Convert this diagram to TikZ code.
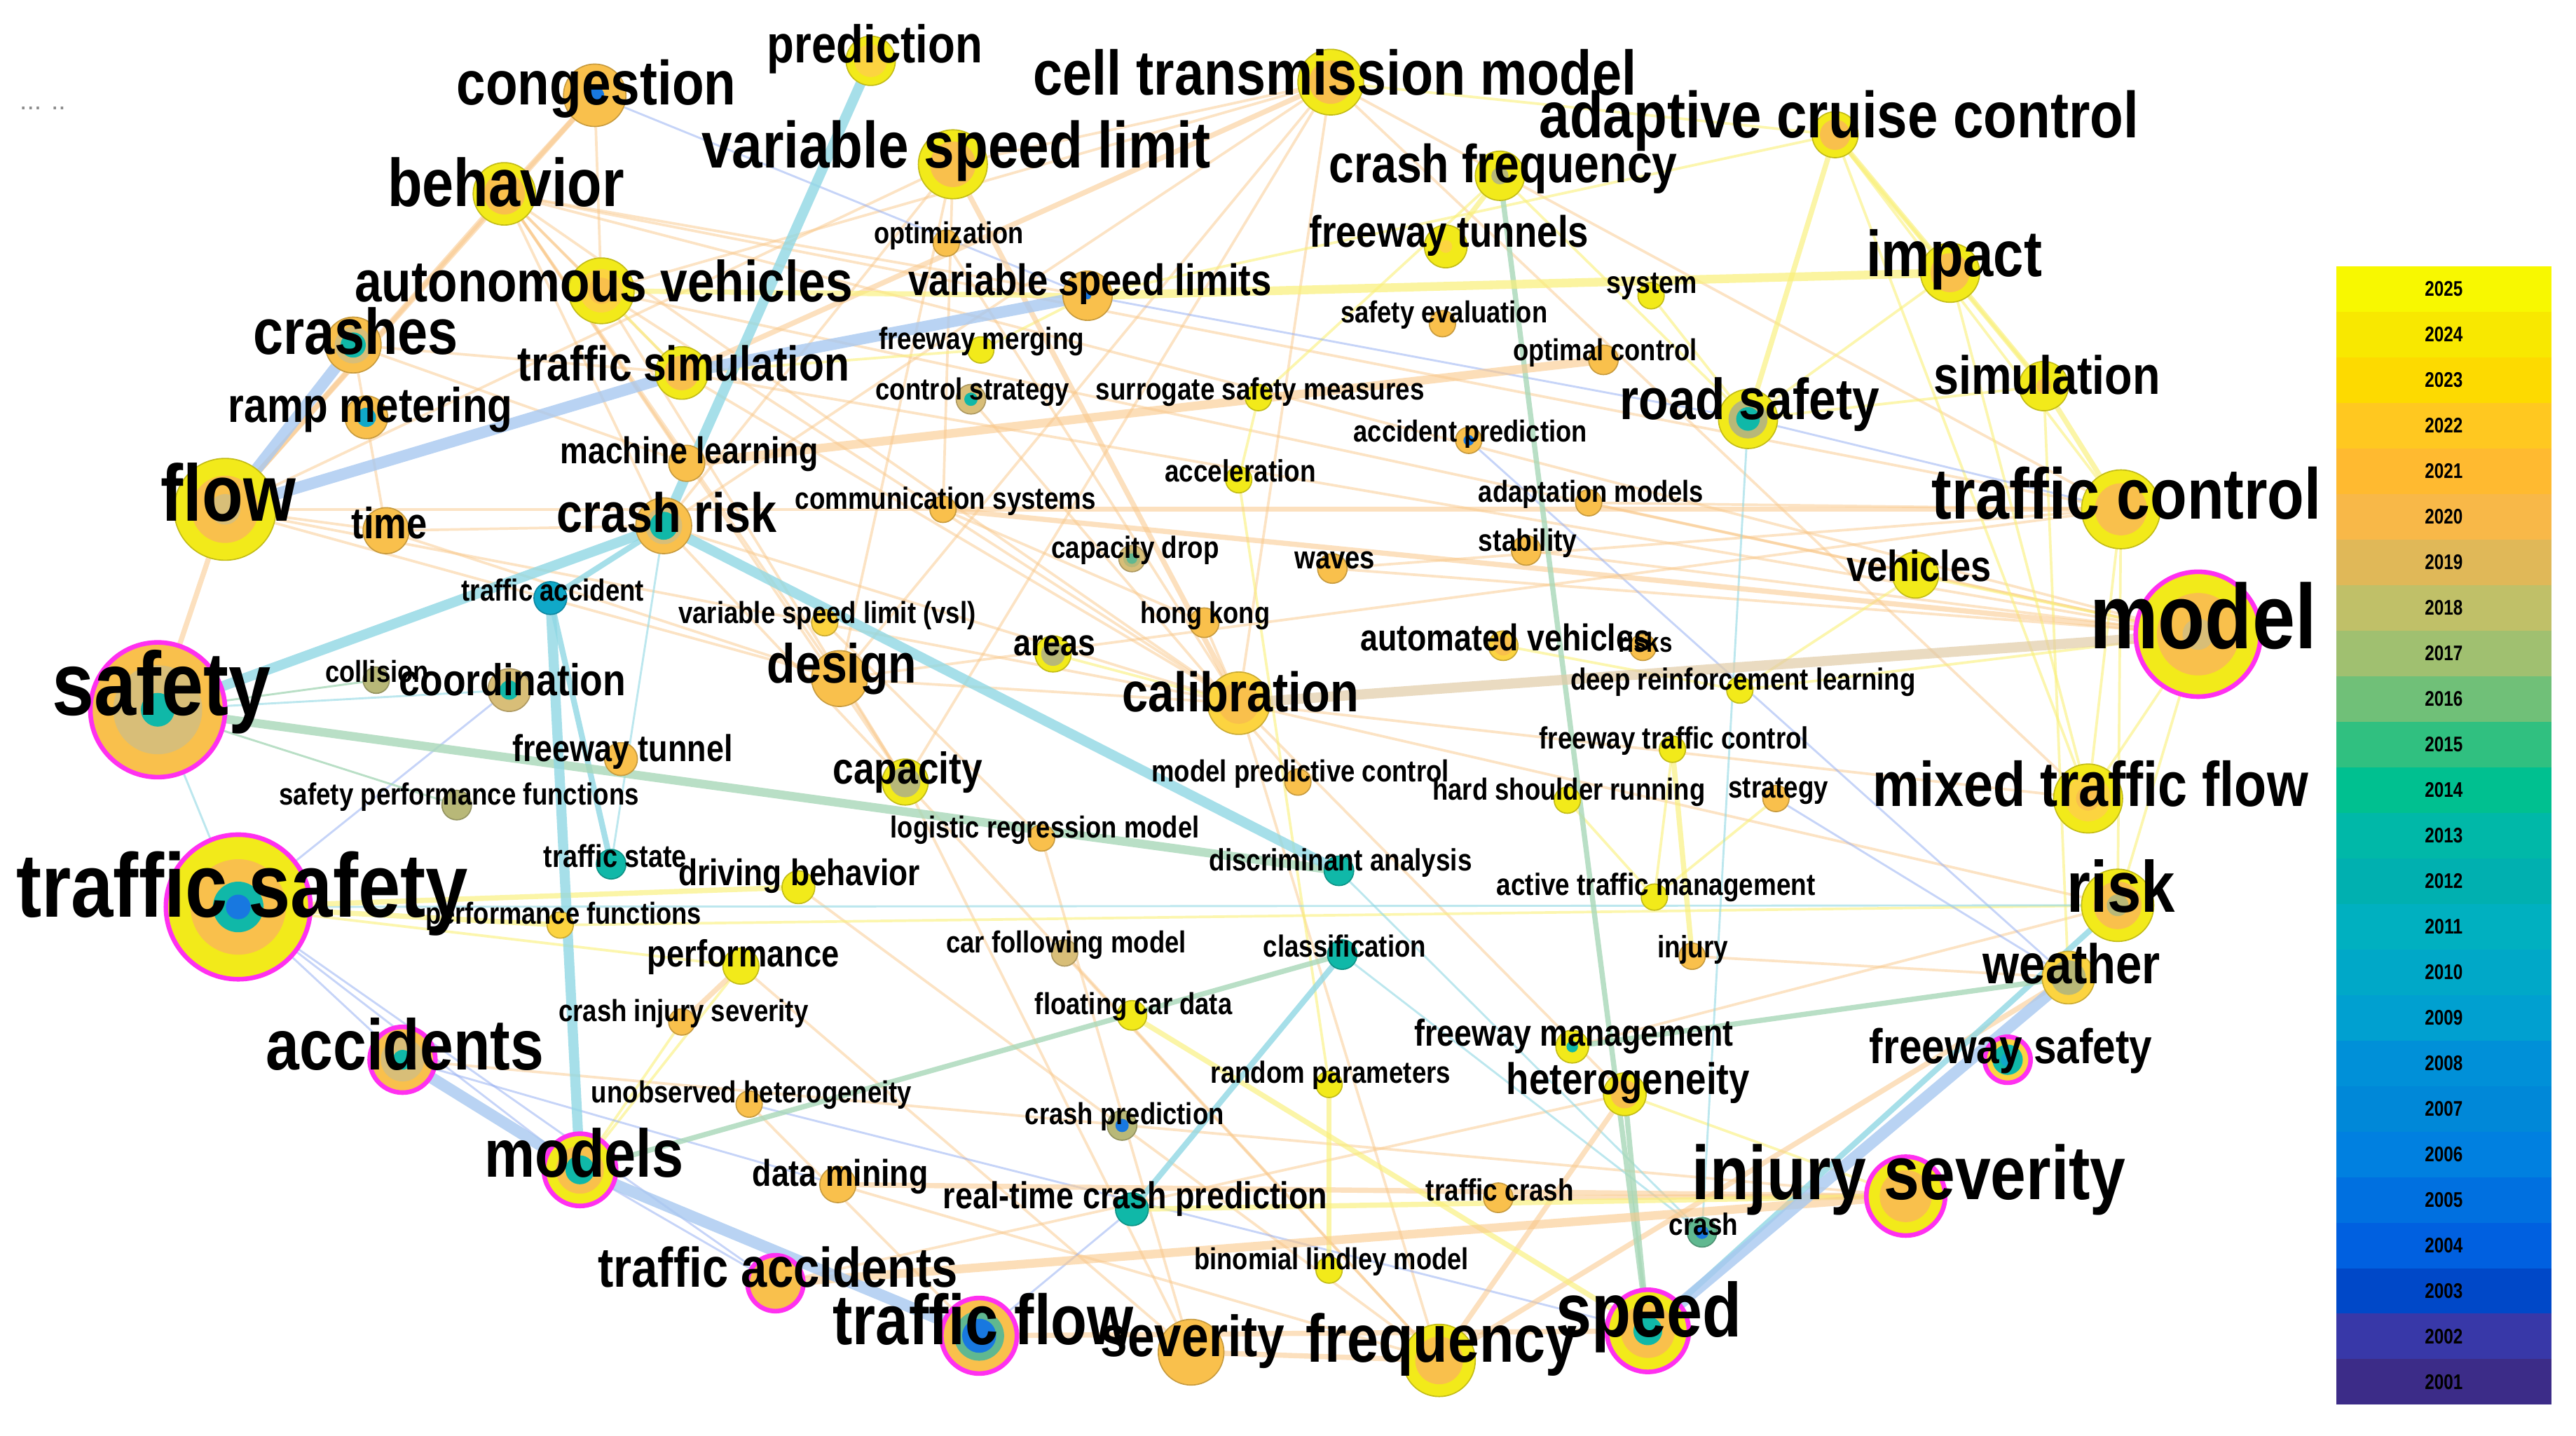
\documentclass[tikz,border=0pt]{standalone}
\usepackage{fontspec}
\setmainfont{Liberation Sans}
\usepackage{graphicx}
\newlength\dpx \setlength\dpx{0.02cm}
\newcommand\kwtxt[2]{\resizebox{#1\dpx}{!}{\scalebox{0.84}[1]{\bfseries #2}}}
\definecolor{kyel}{HTML}{F2EA1A}
\definecolor{korg}{HTML}{F9C04C}
\definecolor{kgold}{HTML}{FCD440}
\definecolor{ktan}{HTML}{D8BE78}
\definecolor{kolive}{HTML}{B8B878}
\definecolor{kteal}{HTML}{10B8A8}
\definecolor{kcyan}{HTML}{10A8C8}
\definecolor{kblue}{HTML}{1878E0}
\definecolor{kgreen}{HTML}{60B890}
\definecolor{kmag}{HTML}{FF30F0}
\definecolor{eblue}{HTML}{A8C8F0}
\definecolor{ecyan}{HTML}{90D8E4}
\definecolor{egreen}{HTML}{A8D8B8}
\definecolor{eorg}{HTML}{FAC88A}
\definecolor{eyel}{HTML}{FAF078}
\definecolor{etan}{HTML}{E2CCA8}
\definecolor{y25}{HTML}{F8F800}\definecolor{y24}{HTML}{F8E800}\definecolor{y23}{HTML}{FDDA00}
\definecolor{y22}{HTML}{FFC820}\definecolor{y21}{HTML}{FFBA30}\definecolor{y20}{HTML}{F8B848}
\definecolor{y19}{HTML}{E0B858}\definecolor{y18}{HTML}{C0C068}\definecolor{y17}{HTML}{A0C070}
\definecolor{y16}{HTML}{70C078}\definecolor{y15}{HTML}{30C080}\definecolor{y14}{HTML}{00C090}
\definecolor{y13}{HTML}{00B8A8}\definecolor{y12}{HTML}{00B0B0}\definecolor{y11}{HTML}{00B0C0}
\definecolor{y10}{HTML}{00A8C8}\definecolor{y09}{HTML}{00A0D0}\definecolor{y08}{HTML}{0090D8}
\definecolor{y07}{HTML}{0088D8}\definecolor{y06}{HTML}{0080E0}\definecolor{y05}{HTML}{0070E0}
\definecolor{y04}{HTML}{0060E0}\definecolor{y03}{HTML}{0048C8}\definecolor{y02}{HTML}{3838A8}
\definecolor{y01}{HTML}{3C2C88}
\tikzset{
 kdot/.style={circle, inner sep=0pt, line width=0.4pt},
 klab/.style={inner sep=0pt, anchor=center, text=black},
 ebT/.style={draw=eblue, line width=4pt, opacity=0.8, line cap=round},
 ebt/.style={draw=eblue!85!blue, line width=0.7pt, opacity=0.5},
 ecT/.style={draw=ecyan, line width=3.5pt, opacity=0.8, line cap=round},
 ecm/.style={draw=ecyan, line width=2pt, opacity=0.8},
 ect/.style={draw=ecyan, line width=0.7pt, opacity=0.6},
 egT/.style={draw=egreen, line width=3pt, opacity=0.8},
 egm/.style={draw=egreen, line width=1.8pt, opacity=0.8},
 egt/.style={draw=egreen, line width=0.7pt, opacity=0.8},
 eoT/.style={draw=eorg, line width=3pt, opacity=0.6},
 eom/.style={draw=eorg, line width=1.8pt, opacity=0.55},
 eot/.style={draw=eorg, line width=0.9pt, opacity=0.5},
 eyT/.style={draw=eyel, line width=3pt, opacity=0.7},
 eym/.style={draw=eyel, line width=1.8pt, opacity=0.65},
 eyt/.style={draw=eyel, line width=0.9pt, opacity=0.6},
 etT/.style={draw=etan, line width=3.5pt, opacity=0.7},
}
\newcommand\kwdot[6]{%
  \node[kdot, minimum size={#2*0.04cm}, fill=#3, draw=#3!80!black] (n-#1) at (#1) {};
  \fill[#4] (#1) circle[radius={0.66*#2*0.02cm}];
  \fill[#5] (#1) circle[radius={#6*#2*0.02cm}];
}
\newcommand\kwring[2]{\draw[kmag, line width=1.6pt] (#1) circle[radius={#2*0.02cm}];}
\newcommand\kwl[5]{\node[klab] (t-#1) at (#2,#3) {\kwtxt{#4}{#5}};}
\begin{document}
\begin{tikzpicture}[x=0.02cm, y=-0.02cm]
\fill[white] (0,0) rectangle (1568,874);
\useasboundingbox (0,0) rectangle (1568,874);
% ---------- node centres
\coordinate (pred) at (530,37);
\coordinate (cong) at (362,58);
\coordinate (ctm) at (810,50);
\coordinate (acc) at (1117,82);
\coordinate (behav) at (307,118);
\coordinate (vslim) at (580,100);
\coordinate (cfreq) at (913,107);
\coordinate (optim) at (576,148);
\coordinate (ftunnels) at (880,150);
\coordinate (impact) at (1187,166);
\coordinate (autov) at (366,177);
\coordinate (vslims) at (662,180);
\coordinate (system) at (1005,180);
\coordinate (safeval) at (878,197);
\coordinate (crashes) at (215,210);
\coordinate (fmerg) at (597,213);
\coordinate (optctrl) at (976,219);
\coordinate (tsim) at (415,227);
\coordinate (sim) at (1244,235);
\coordinate (ctrlstr) at (591,243);
\coordinate (ssm) at (766,242);
\coordinate (ramp) at (223,254);
\coordinate (roadsaf) at (1064,255);
\coordinate (accpred) at (894,268);
\coordinate (ml) at (418,282);
\coordinate (flow) at (137,310);
\coordinate (tctrl) at (1291,310);
\coordinate (accel) at (754,292);
\coordinate (time) at (235,323);
\coordinate (crisk) at (404,320);
\coordinate (comm) at (574,310);
\coordinate (adapt) at (967,306);
\coordinate (stab) at (929,335);
\coordinate (capdrop) at (689,340);
\coordinate (waves) at (811,346);
\coordinate (vehicles) at (1166,350);
\coordinate (taccident) at (335,364);
\coordinate (model) at (1338,386);
\coordinate (vsl) at (502,379);
\coordinate (hk) at (733,379);
\coordinate (autom) at (915,393);
\coordinate (risks) at (1000,394);
\coordinate (areas) at (641,398);
\coordinate (safety) at (96,432);
\coordinate (collision) at (229,414);
\coordinate (coord) at (310,420);
\coordinate (design) at (511,413);
\coordinate (calib) at (754,428);
\coordinate (drl) at (1059,420);
\coordinate (ftunnel) at (378,462);
\coordinate (ftc) at (1018,456);
\coordinate (capacity) at (551,476);
\coordinate (mpc) at (790,476);
\coordinate (hsr) at (954,487);
\coordinate (strategy) at (1081,486);
\coordinate (mtf) at (1271,486);
\coordinate (spf) at (278,490);
\coordinate (lrm) at (634,510);
\coordinate (tstate) at (372,526);
\coordinate (disc) at (815,530);
\coordinate (tsafety) at (145,552);
\coordinate (drivb) at (486,540);
\coordinate (perfun) at (341,563);
\coordinate (atm) at (1007,546);
\coordinate (risk) at (1289,551);
\coordinate (perf) at (451,588);
\coordinate (cfm) at (648,580);
\coordinate (classif) at (817,581);
\coordinate (injury) at (1030,582);
\coordinate (weather) at (1259,595);
\coordinate (cis) at (415,622);
\coordinate (fcd) at (689,618);
\coordinate (accidents) at (245,645);
\coordinate (fmgmt) at (957,637);
\coordinate (fsafety) at (1222,645);
\coordinate (randp) at (809,660);
\coordinate (hetero) at (989,666);
\coordinate (unobs) at (456,672);
\coordinate (cpred) at (683,685);
\coordinate (models) at (353,712);
\coordinate (dmining) at (510,721);
\coordinate (injsev) at (1160,728);
\coordinate (rtcp) at (689,736);
\coordinate (tcrash) at (912,729);
\coordinate (crash) at (1036,750);
\coordinate (bl) at (809,773);
\coordinate (taccs) at (472,781);
\coordinate (tflow) at (596,813);
\coordinate (severity) at (725,823);
\coordinate (freq) at (876,828);
\coordinate (speed) at (1003,810);
% ---------- edges (thin first)
\foreach \a/\b in {behav/autov, behav/tsim, behav/vslims, behav/crisk, behav/design, behav/calib, behav/tctrl, behav/model, behav/capacity, behav/ml, cong/autov,
 ctm/autov, ctm/crisk, ctm/design, ctm/calib, ctm/capacity, ctm/vslim, ctm/mtf, ctm/tctrl, vslim/design, vslim/comm, vslim/crisk, vslim/flow,
 crashes/tsim, crashes/ml, crashes/time, flow/time, flow/comm, flow/calib, flow/design, time/crisk, time/design, autov/calib, autov/model, autov/capacity,
 tsim/calib, tsim/model, comm/hk, crisk/calib, crisk/capacity, design/capacity, design/calib, design/tctrl, calib/mtf, calib/risk, calib/hetero, calib/freq,
 capacity/freq, capacity/severity, model/adapt, model/stab, tctrl/adapt, tctrl/waves, vsl/lrm, hk/calib, hetero/taccs, unobs/tflow, dmining/freq,
 accidents/injsev, weather/injury, risk/fmgmt, drivb/freq, perf/severity, optim/calib, ctrlstr/mpc, waves/model, lrm/severity, cfm/freq}
 {\draw[eot] (\a) -- (\b);}
\foreach \a/\b in {acc/sim, acc/tctrl, acc/mtf, acc/ctm, acc/vslims, impact/roadsaf, impact/mtf, sim/roadsaf, tctrl/mtf, model/mtf, model/risk, model/vehicles,
 tsafety/perf, cfreq/ssm, cfreq/roadsaf, hsr/atm, ftc/atm, models/perf, models/cis, hetero/injsev, drl/vehicles, drl/model, system/roadsaf, accel/randp,
 autov/tsim, tsim/fmerg, fmerg/vslims, risk/tctrl, weather/sim, perfun/risk, atm/strategy, autom/drl, ssm/accel, areas/calib}
 {\draw[eyt] (\a) -- (\b);}
\foreach \a/\b in {cong/vslims, vslims/roadsaf, accpred/weather, strategy/weather, tsafety/models, tsafety/accidents, tsafety/taccs, models/taccs,
 speed/unobs, tflow/rtcp, tctrl/roadsaf, accidents/dmining, tsafety/coord}
 {\draw[ebt] (\a) -- (\b);}
\foreach \a/\b in {roadsaf/crash, disc/crash, tsafety/risk, classif/crash, safety/tsafety, safety/coord, crisk/tstate}
 {\draw[ect] (\a) -- (\b);}
\foreach \a/\b in {collision/safety, spf/safety}
 {\draw[egt] (\a) -- (\b);}
% medium
\foreach \a/\b in {cong/behav, cong/flow, ctm/tsim, vslim/calib, flow/safety, comm/model, comm/tctrl, tflow/speed, severity/freq, freq/hetero, tcrash/injsev,
 injsev/dmining, cis/perf, weather/freq, behav/flow}
 {\draw[eom] (\a) -- (\b);}
\foreach \a/\b in {autov/vslims, acc/impact, acc/roadsaf, impact/sim, sim/tctrl, fcd/speed, randp/bl, tsafety/drivb, tsafety/perfun, cfreq/ftunnels,
 ftc/injury, rtcp/injsev}
 {\draw[eym] (\a) -- (\b);}
\foreach \a/\b in {crisk/taccident, taccident/tstate, speed/risk, classif/rtcp}
 {\draw[ecm] (\a) -- (\b);}
\foreach \a/\b in {cfreq/speed, fmgmt/weather, hetero/speed, classif/models}
 {\draw[egm] (\a) -- (\b);}
% thick
\foreach \a/\b in {ml/optctrl, taccs/injsev}
 {\draw[eoT] (\a) -- (\b);}
\draw[etT] (model) -- (calib);
\draw[eyT] (vslims) -- (impact);
\draw[egT] (safety) -- (disc);
\foreach \a/\b in {pred/crisk, safety/crisk, crisk/disc, taccident/models}
 {\draw[ecT] (\a) -- (\b);}
\foreach \a/\b in {crashes/flow, flow/tsim, tsim/vslims, accidents/models, models/tflow, speed/weather}
 {\draw[ebT] (\a) -- (\b);}
% ---------- keyword circles
\kwdot{pred}{15}{kyel}{kgold}{kgold}{0.3}
\kwdot{cong}{19}{korg}{korg}{kblue}{0.3}
\kwdot{ctm}{20}{kyel}{korg}{korg}{0.3}
\kwdot{acc}{14}{kyel}{korg}{korg}{0.3}
\kwdot{behav}{19}{kyel}{korg}{korg}{0.3}
\kwdot{vslim}{21}{kyel}{korg}{korg}{0.3}
\kwdot{cfreq}{15}{kyel}{kyel}{kolive}{0.35}
\kwdot{optim}{8}{korg}{korg}{korg}{0.3}
\kwdot{ftunnels}{13}{kyel}{kyel}{kgold}{0.3}
\kwdot{impact}{18}{kyel}{korg}{korg}{0.3}
\kwdot{autov}{20}{kyel}{kgold}{korg}{0.4}
\kwdot{vslims}{15}{korg}{korg}{kblue}{0.15}
\kwdot{system}{8}{kyel}{kyel}{kyel}{0.3}
\kwdot{safeval}{8}{korg}{korg}{korg}{0.3}
\kwdot{crashes}{17}{korg}{ktan}{kteal}{0.45}
\kwdot{fmerg}{8}{kyel}{kyel}{kyel}{0.3}
\kwdot{optctrl}{9}{korg}{korg}{korg}{0.3}
\kwdot{tsim}{16}{kyel}{korg}{korg}{0.3}
\kwdot{sim}{15}{kyel}{kyel}{korg}{0.3}
\kwdot{ctrlstr}{9}{ktan}{ktan}{kteal}{0.45}
\kwdot{ssm}{8}{kyel}{kyel}{kyel}{0.3}
\kwdot{ramp}{13}{korg}{korg}{kcyan}{0.45}
\kwdot{roadsaf}{18}{kyel}{kolive}{kteal}{0.4}
\kwdot{accpred}{8}{korg}{korg}{kblue}{0.4}
\kwdot{ml}{11}{korg}{korg}{korg}{0.3}
\kwdot{flow}{31}{kyel}{korg}{ktan}{0.3}
\kwdot{tctrl}{24}{kyel}{korg}{korg}{0.3}
\kwdot{accel}{8}{kyel}{kyel}{kyel}{0.3}
\kwdot{time}{14}{korg}{korg}{korg}{0.3}
\kwdot{crisk}{17}{korg}{ktan}{kteal}{0.5}
\kwdot{comm}{8}{korg}{korg}{korg}{0.3}
\kwdot{adapt}{8}{korg}{korg}{korg}{0.3}
\kwdot{stab}{9}{korg}{korg}{korg}{0.3}
\kwdot{capdrop}{8}{ktan}{kolive}{kgreen}{0.4}
\kwdot{waves}{9}{korg}{korg}{korg}{0.3}
\kwdot{vehicles}{14}{kyel}{kyel}{kyel}{0.3}
\kwdot{taccident}{10}{kcyan}{kcyan}{kcyan}{0.3}
\kwdot{model}{38}{kyel}{korg}{ktan}{0.25}
\kwring{model}{38}
\kwdot{vsl}{8}{kgold}{kgold}{kgold}{0.3}
\kwdot{hk}{9}{korg}{korg}{korg}{0.3}
\kwdot{autom}{9}{kgold}{korg}{korg}{0.3}
\kwdot{risks}{8}{korg}{korg}{korg}{0.3}
\kwdot{areas}{11}{kyel}{kolive}{kolive}{0.4}
\kwdot{safety}{41}{korg}{ktan}{kteal}{0.25}
\kwring{safety}{41}
\kwdot{collision}{8}{kolive}{kolive}{kolive}{0.3}
\kwdot{coord}{13}{ktan}{ktan}{kteal}{0.45}
\kwdot{design}{17}{korg}{korg}{korg}{0.3}
\kwdot{calib}{19}{kgold}{korg}{korg}{0.4}
\kwdot{drl}{8}{kyel}{kyel}{kyel}{0.3}
\kwdot{ftunnel}{10}{korg}{korg}{korg}{0.3}
\kwdot{ftc}{8}{kyel}{kyel}{kyel}{0.3}
\kwdot{capacity}{14}{kyel}{kolive}{kolive}{0.4}
\kwdot{mpc}{8}{korg}{korg}{korg}{0.3}
\kwdot{hsr}{8}{kyel}{kyel}{kyel}{0.3}
\kwdot{strategy}{8}{korg}{korg}{korg}{0.3}
\kwdot{mtf}{21}{kyel}{kgold}{korg}{0.35}
\kwdot{spf}{9}{kolive}{kolive}{kolive}{0.3}
\kwdot{lrm}{8}{korg}{korg}{korg}{0.3}
\kwdot{tstate}{9}{kteal}{kteal}{kteal}{0.3}
\kwdot{disc}{9}{kteal}{kteal}{kteal}{0.3}
\kwdot{tsafety}{44}{kyel}{korg}{kteal}{0.35}
\fill[kblue] (tsafety) circle[radius={0.15cm}];
\kwring{tsafety}{44}
\kwdot{drivb}{10}{kyel}{kyel}{kyel}{0.3}
\kwdot{perfun}{8}{kgold}{kgold}{kgold}{0.3}
\kwdot{atm}{8}{kyel}{kyel}{kyel}{0.3}
\kwdot{risk}{22}{kyel}{korg}{kolive}{0.3}
\kwdot{perf}{11}{kyel}{kyel}{kyel}{0.3}
\kwdot{cfm}{8}{ktan}{ktan}{ktan}{0.3}
\kwdot{classif}{9}{kteal}{kteal}{kteal}{0.3}
\kwdot{injury}{8}{korg}{korg}{korg}{0.3}
\kwdot{weather}{16}{kgold}{kolive}{kolive}{0.5}
\kwdot{cis}{8}{korg}{korg}{korg}{0.3}
\kwdot{fcd}{9}{kyel}{kyel}{kyel}{0.3}
\kwdot{accidents}{20}{korg}{ktan}{kteal}{0.3}
\kwring{accidents}{20}
\kwdot{fmgmt}{10}{kyel}{kyel}{kteal}{0.35}
\kwdot{fsafety}{14}{kgold}{kteal}{kcyan}{0.3}
\kwring{fsafety}{14}
\kwdot{randp}{8}{kyel}{kyel}{kyel}{0.3}
\kwdot{hetero}{13}{kyel}{korg}{korg}{0.3}
\kwdot{unobs}{8}{korg}{korg}{korg}{0.3}
\kwdot{cpred}{9}{kolive}{kolive}{kblue}{0.45}
\kwdot{models}{22}{kyel}{korg}{kteal}{0.4}
\kwring{models}{22}
\kwdot{dmining}{11}{korg}{korg}{korg}{0.3}
\kwdot{injsev}{24}{kyel}{korg}{korg}{0.3}
\kwring{injsev}{24}
\kwdot{rtcp}{10}{kteal}{kteal}{kteal}{0.3}
\kwdot{tcrash}{9}{korg}{korg}{korg}{0.3}
\kwdot{crash}{9}{kgreen}{kgreen}{kblue}{0.45}
\kwdot{bl}{8}{kyel}{kyel}{kyel}{0.3}
\kwdot{taccs}{17}{korg}{korg}{korg}{0.3}
\kwring{taccs}{17}
\kwdot{tflow}{23}{korg}{kgreen}{kblue}{0.45}
\kwring{tflow}{23}
\kwdot{severity}{20}{korg}{korg}{korg}{0.3}
\kwdot{freq}{22}{kyel}{korg}{korg}{0.35}
\kwdot{speed}{25}{kyel}{korg}{kteal}{0.35}
\kwring{speed}{25}
% ---------- labels
\kwl{pred}{532.5}{30}{131}{prediction}
\kwl{cong}{363}{54}{170}{congestion}
\kwl{ctm}{812.5}{44}{367}{cell transmission model}
\kwl{acc}{1119.5}{73.5}{365}{adaptive cruise control}
\kwl{behav}{308}{111}{144}{behavior}
\kwl{vslim}{582}{92}{310}{variable speed limit}
\kwl{cfreq}{915}{102.5}{212}{crash frequency}
\kwl{optim}{577.5}{143.5}{91}{optimization}
\kwl{ftunnels}{882}{143.5}{170}{freeway tunnels}
\kwl{impact}{1189.5}{158}{107}{impact}
\kwl{autov}{367.5}{171}{303}{autonomous vehicles}
\kwl{vslims}{663.5}{173}{221}{variable speed limits}
\kwl{system}{1005.5}{174.5}{55}{system}
\kwl{safeval}{879}{191.5}{126}{safety evaluation}
\kwl{crashes}{216.5}{201.5}{125}{crashes}
\kwl{fmerg}{597.5}{208}{125}{freeway merging}
\kwl{optctrl}{977}{214.5}{112}{optimal control}
\kwl{tsim}{416}{221}{202}{traffic simulation}
\kwl{sim}{1246}{228}{138}{simulation}
\kwl{ctrlstr}{592}{238.5}{118}{control strategy}
\kwl{ssm}{767}{238.5}{200}{surrogate safety measures}
\kwl{ramp}{225.5}{249.5}{173}{ramp metering}
\kwl{roadsaf}{1065}{246}{158}{road safety}
\kwl{accpred}{895}{264}{142}{accident prediction}
\kwl{ml}{419.5}{276.5}{157}{machine learning}
\kwl{flow}{139}{299.5}{82}{flow}
\kwl{tctrl}{1294.5}{300}{237}{traffic control}
\kwl{accel}{755}{286.5}{92}{acceleration}
\kwl{time}{237}{318.5}{46}{time}
\kwl{crisk}{406}{312}{134}{crash risk}
\kwl{comm}{575.5}{305}{183}{communication systems}
\kwl{adapt}{968.5}{301}{137}{adaptation models}
\kwl{stab}{930}{330.5}{60}{stability}
\kwl{capdrop}{691}{335}{102}{capacity drop}
\kwl{waves}{812.5}{341}{49}{waves}
\kwl{vehicles}{1168}{344.5}{88}{vehicles}
\kwl{taccident}{336.5}{359}{111}{traffic accident}
\kwl{model}{1341}{375}{138}{model}
\kwl{vsl}{503.5}{374.5}{181}{variable speed limit (vsl)}
\kwl{hk}{733.5}{374.5}{79}{hong kong}
\kwl{risks}{1001.5}{391}{33}{risks}
\kwl{autom}{916.5}{388}{177}{automated vehicles}
\kwl{areas}{642}{393}{50}{areas}
\kwl{safety}{98.5}{421}{133}{safety}
\kwl{collision}{229.5}{408.5}{63}{collision}
\kwl{coord}{312}{413.5}{138}{coordination}
\kwl{design}{512.5}{407}{91}{design}
\kwl{calib}{755}{421}{144}{calibration}
\kwl{drl}{1061}{415}{210}{deep reinforcement learning}
\kwl{ftunnel}{379}{457.5}{134}{freeway tunnel}
\kwl{ftc}{1019}{451}{164}{freeway traffic control}
\kwl{capacity}{552.5}{470}{91}{capacity}
\kwl{mpc}{791.5}{471}{181}{model predictive control}
\kwl{hsr}{955}{482}{166}{hard shoulder running}
\kwl{strategy}{1082.5}{481.5}{61}{strategy}
\kwl{mtf}{1272.5}{477}{265}{mixed traffic flow}
\kwl{spf}{279.5}{485}{219}{safety performance functions}
\kwl{lrm}{636}{505}{188}{logistic regression model}
\kwl{tstate}{374.5}{521}{87}{traffic state}
\kwl{disc}{816}{525}{160}{discriminant analysis}
\kwl{tsafety}{147.5}{544}{275}{traffic safety}
\kwl{drivb}{486.5}{533}{147}{driving behavior}
\kwl{perfun}{343}{557.5}{168}{performance functions}
\kwl{atm}{1008}{540}{194}{active traffic management}
\kwl{risk}{1291}{539.5}{66}{risk}
\kwl{perf}{452.5}{582.5}{117}{performance}
\kwl{cfm}{649}{575}{146}{car following model}
\kwl{classif}{818.5}{576}{99}{classification}
\kwl{injury}{1030.5}{578}{43}{injury}
\kwl{weather}{1261}{586.5}{108}{weather}
\kwl{cis}{416}{617}{152}{crash injury severity}
\kwl{fcd}{690}{612.5}{120}{floating car data}
\kwl{accidents}{246.5}{635.5}{169}{accidents}
\kwl{fmgmt}{958}{631}{194}{freeway management}
\kwl{fsafety}{1224}{639.5}{172}{freeway safety}
\kwl{randp}{810}{654.5}{146}{random parameters}
\kwl{hetero}{991}{659}{148}{heterogeneity}
\kwl{unobs}{457.5}{666.5}{195}{unobserved heterogeneity}
\kwl{cpred}{684.5}{679.5}{121}{crash prediction}
\kwl{models}{355.5}{701.5}{121}{models}
\kwl{dmining}{511.5}{716}{107}{data mining}
\kwl{injsev}{1162}{718}{264}{injury severity}
\kwl{rtcp}{691}{729.5}{234}{real-time crash prediction}
\kwl{tcrash}{913}{724}{90}{traffic crash}
\kwl{crash}{1037}{745}{42}{crash}
\kwl{bl}{810.5}{768}{167}{binomial lindley model}
\kwl{taccs}{473.5}{771}{219}{traffic accidents}
\kwl{tflow}{598.5}{803}{183}{traffic flow}
\kwl{severity}{726}{816.5}{112}{severity}
\kwl{freq}{877.5}{818.5}{165}{frequency}
\kwl{speed}{1003.5}{801.5}{113}{speed}
\node[inner sep=0pt, text=black!45] (dots) at (26,66) {\resizebox{28\dpx}{!}{... ..}};
% ---------- year legend
\foreach \yr/\col [count=\k from 0] in {2025/y25,2024/y24,2023/y23,2022/y22,2021/y21,2020/y20,2019/y19,2018/y18,2017/y17,2016/y16,2015/y15,2014/y14,2013/y13,2012/y12,2011/y11,2010/y10,2009/y09,2008/y08,2007/y07,2006/y06,2005/y05,2004/y04,2003/y03,2002/y02,2001/y01}{
  \fill[\col] (1422,{162+\k*27.72}) rectangle (1553,{162+(\k+1)*27.72});
  \node[inner sep=0pt] (yr\yr) at (1487.5,{162+(\k+0.5)*27.72}) {\resizebox{23\dpx}{9\dpx}{\bfseries\yr}};
}
\end{tikzpicture}
\end{document}
